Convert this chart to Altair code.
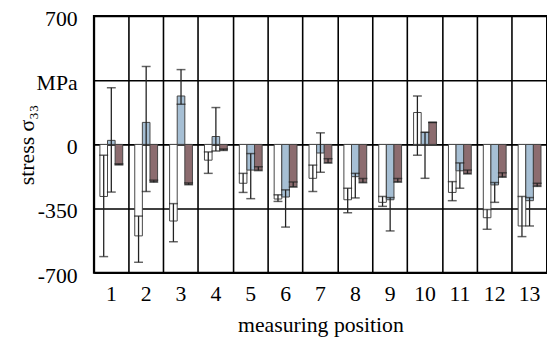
import altair as alt
import pandas as pd

positions = [str(i) for i in range(1, 14)]
series = ["s1", "s2", "s3"]

white_val = [-284, -499, -418, -86, -212, -298, -185, -302, -316, 174, -262, -400, -445]
white_lo = [-612, -643, -531, -158, -262, -311, -257, -373, -338, -59, -307, -463, -503]
white_hi = [-59, -391, -323, -41, -158, -275, -113, -239, -284, 264, -203, -355, -284]

blue_val = [22, 120, 264, 43, -140, -287, -47, -176, -302, 66, -144, -221, -307]
blue_lo = [-260, -257, 219, -36, -296, -451, -152, -292, -472, -185, -239, -316, -445]
blue_hi = [309, 425, 408, 201, -50, -248, 63, -158, -290, 66, -101, -208, -290]

brown_val = [-109, -203, -217, -30, -140, -230, -99, -206, -203, 120, -158, -176, -226]
brown_lo = [-112, -206, -220, -33, -143, -233, -102, -209, -206, 120, -161, -179, -229]
brown_hi = [-106, -195, -210, -25, -122, -205, -78, -186, -186, 120, -140, -155, -212]

y_ticks = [-700, -350, 0, 350, 700]

rows = []
for i, p in enumerate(positions):
    rows.append(dict(pos=p, s="s1", v=white_val[i], lo=white_lo[i], hi=white_hi[i]))
    rows.append(dict(pos=p, s="s2", v=blue_val[i], lo=blue_lo[i], hi=blue_hi[i]))
    rows.append(dict(pos=p, s="s3", v=brown_val[i], lo=brown_lo[i], hi=brown_hi[i]))
df = pd.DataFrame(rows)

FONT = "Liberation Serif"
FS = 22

x_axis = alt.Axis(
    title="measuring position", labelAngle=0, grid=True, gridColor="black",
    gridWidth=1.6, bandPosition=0, ticks=False, domain=False,
    labelFont=FONT, labelFontSize=FS, labelColor="black", labelPadding=11,
    titleFont=FONT, titleFontSize=FS, titleFontWeight="normal",
    titleColor="black", titlePadding=11,
)
y_axis = alt.Axis(
    title="stress σ₃₃", values=y_ticks,
    labelExpr="datum.value == 350 ? 'MPa' : '' + datum.value",
    grid=True, gridColor="black", gridWidth=1.6, ticks=False, domain=False,
    labelFont=FONT, labelFontSize=FS, labelColor="black", labelPadding=17,
    labelOffset=2.5,
    titleFont=FONT, titleFontSize=FS, titleFontWeight="normal",
    titleColor="black", titleX=-68, titleY=130, titleBaseline="middle",
    titleAlign="center", titleAngle=270,
)

x = alt.X("pos:N", sort=positions,
          scale=alt.Scale(paddingInner=0, paddingOuter=0), axis=x_axis)
xo = alt.XOffset("s:N", sort=series,
                 scale=alt.Scale(paddingOuter=0.79, paddingInner=0))
yscale = alt.Scale(domain=[-700, 700], nice=False)

base = alt.Chart(df)

bars = base.mark_bar(stroke="#444444", strokeWidth=1).encode(
    x=x, xOffset=xo,
    y=alt.Y("v:Q", scale=yscale, axis=y_axis),
    color=alt.Color("s:N", scale=alt.Scale(domain=series,
                    range=["#ffffff", "#a6bfd4", "#8c6c6f"]), legend=None),
)
rules = base.mark_rule(color="#222222", strokeWidth=1.3).encode(
    x=x, xOffset=xo,
    y=alt.Y("lo:Q", scale=yscale, axis=y_axis), y2="hi:Q",
)
cap_lo = base.mark_tick(color="#222222", thickness=1.5, size=9).encode(
    x=x, xOffset=xo, y=alt.Y("lo:Q", scale=yscale, axis=y_axis),
)
cap_hi = base.mark_tick(color="#222222", thickness=1.5, size=9).encode(
    x=x, xOffset=xo, y=alt.Y("hi:Q", scale=yscale, axis=y_axis),
)

chart = alt.layer(bars, rules, cap_lo, cap_hi).properties(
    width=459, height=260,
    autosize=alt.AutoSizeParams(type="none"),
    padding={"left": 87, "top": 6, "right": 0, "bottom": 68},
).configure_view(stroke="black", strokeWidth=2)

chart.save("out.html", embed_options={"renderer": "svg", "actions": False})
